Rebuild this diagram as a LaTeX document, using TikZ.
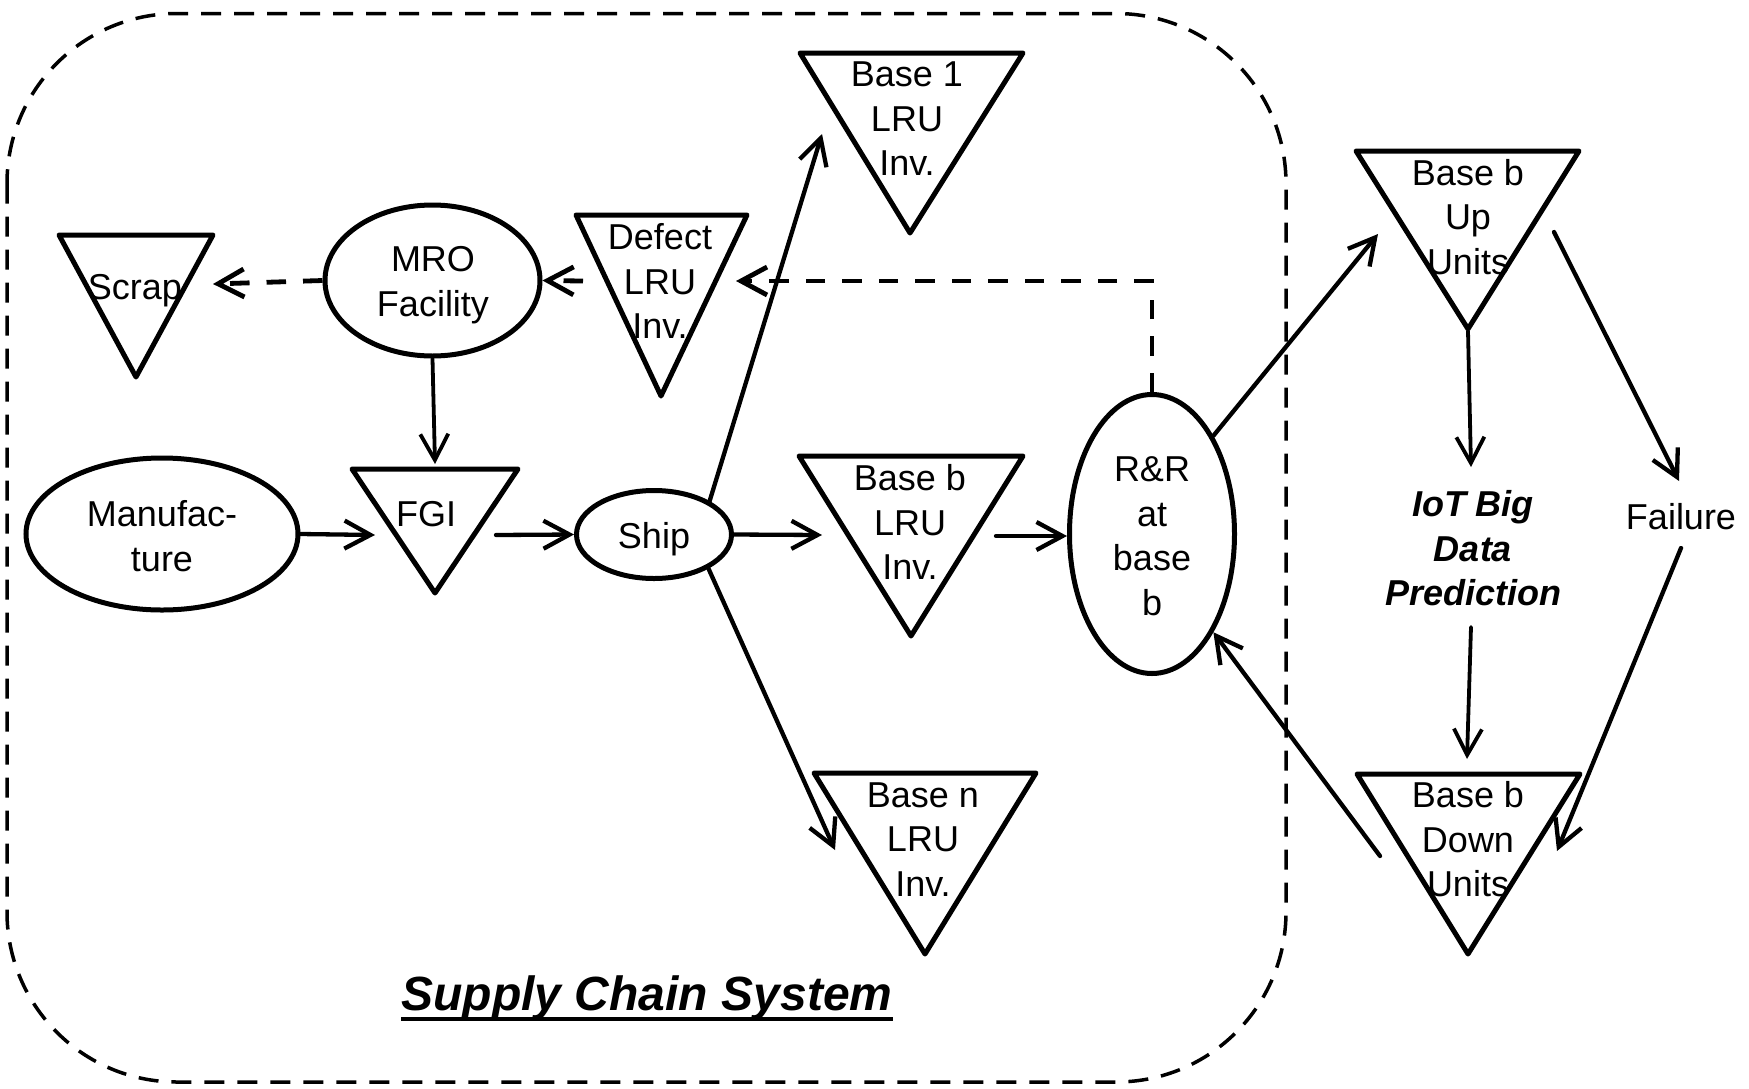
\documentclass[tikz,border=0pt]{standalone}
\usepackage{fontspec}
\setmainfont{Liberation Sans}
\usetikzlibrary{arrows.meta,shapes.geometric}

\tikzset{
  tri/.style={draw, line width=5pt, line join=round},
  oval/.style={ellipse, draw, line width=5pt, inner sep=0pt},
  lbl/.style={inner sep=0pt, align=center, font=\fontsize{36}{44.5}\selectfont},
  hint/.style={lbl, font=\fontsize{36}{44.5}\selectfont\bfseries\itshape},
  flow/.style={line width=4.3pt, line cap=round, -{Straight Barb[length=26pt,width=28pt]}},
  thinflow/.style={flow, line width=3.8pt},
  back/.style={line width=4.8pt, dash pattern=on 19.5pt off 17pt, -{Straight Barb[length=26pt,width=28pt]}},
  frame/.style={line width=3.5pt, dash pattern=on 20pt off 13pt, rounded corners=170pt},
}

\begin{document}
\begin{tikzpicture}[x=1pt, y=-1pt]
  \useasboundingbox (0,0) rectangle (1749,1088);

  % supply chain boundary
  \draw[frame] (7,13.5) rectangle (1286,1082);

  % inventories (downward triangles)
  \draw[tri] (59,235) -- (213,235) -- (136,377) -- cycle;
  \draw[tri] (576,215) -- (747,215) -- (661,396) -- cycle;
  \draw[tri] (800,53) -- (1023,53) -- (910,233) -- cycle;
  \draw[tri] (352,469) -- (518,469) -- (435,593) -- cycle;
  \draw[tri] (799,456) -- (1023,456) -- (911,636) -- cycle;
  \draw[tri] (814,773) -- (1036,773) -- (925,954) -- cycle;
  \draw[tri] (1356,151) -- (1579,151) -- (1468,329) -- cycle;
  \draw[tri] (1357,774) -- (1580,774) -- (1468,954) -- cycle;

  % processes (ellipses)
  \node[oval, minimum width=272pt, minimum height=152pt] (manuf) at (162,534) {};
  \node[oval, minimum width=215pt, minimum height=151pt] (mro) at (432.5,280.5) {};
  \node[oval, minimum width=155pt, minimum height=88pt] (ship) at (654,534.5) {};
  \node[oval, minimum width=165pt, minimum height=279pt] (rr) at (1152,534) {};

  % labels
  \node[lbl] (scrap) at (135,291) {Scrap};
  \node[lbl] (mro-t) at (433,285) {MRO\\Facility};
  \node[lbl] (defect) at (660,281) {Defect\\LRU\\Inv.};
  \node[lbl] (fgi) at (426,514) {FGI};
  \node[lbl] (manuf-t) at (162,536) {Manufac-\\ture};
  \node[lbl] (ship-t) at (654,539) {Ship};
  \node[lbl] (base1) at (907,119) {Base 1\\LRU\\Inv.};
  \node[lbl] (baseb) at (910,522) {Base b\\LRU\\Inv.};
  \node[lbl] (basen) at (923,839.5) {Base n\\LRU\\Inv.};
  \node[lbl] (rr-t) at (1152,536) {R\&R\\at\\base\\b};
  \node[lbl] (up) at (1468,217) {Base b\\Up\\Units};
  \node[lbl] (down) at (1468,839.5) {Base b\\Down\\Units};
  \node[hint] (iot) at (1473,548.5) {IoT Big\\Data\\Prediction};
  \node[lbl] (failure) at (1681,517) {Failure};
  \node[inner sep=0pt, anchor=base, font=\fontsize{48}{58}\selectfont\bfseries\itshape]
    (title) at (647,1010) {Supply Chain System};
  \draw[line width=4.5pt] ([yshift=-9pt]title.base west) -- ([yshift=-9pt]title.base east);

  % connector ends
  \coordinate (fgi-w) at (375,535);
  \coordinate (fgi-e) at (496,535);
  \coordinate (fgi-n) at (435,464);
  \coordinate (bbl-w) at (822,535);
  \coordinate (bbl-e) at (996,536);
  \coordinate (b1-in) at (822,134);
  \coordinate (bn-in) at (835,850);
  \coordinate (up-in) at (1378,234);
  \coordinate (up-apex) at (1468,331);
  \coordinate (up-out) at (1554,232);
  \coordinate (iot-in) at (1471,467);
  \coordinate (iot-out) at (1471,627);
  \coordinate (down-in) at (1467,759);
  \coordinate (fail-in) at (1679,481);
  \coordinate (fail-out) at (1681,548);
  \coordinate (down-fail) at (1557,851);
  \coordinate (down-out) at (1380,856);
  \coordinate (scrap-in) at (213,284);
  \coordinate (def-w) at (583,281);
  \coordinate (def-e) at (736,281);

  % forward flow
  \draw[flow] (manuf.east) -- (fgi-w);
  \draw[flow] (fgi-e) -- (ship.west);
  \draw[flow] (ship.east) -- (bbl-w);
  \draw[flow] (bbl-e) -- (rr.west |- bbl-e);
  \draw[flow] (ship.31) -- (b1-in);
  \draw[flow] (ship.-32) -- (bn-in);
  \draw[flow] (rr.58) -- (up-in);
  \draw[flow] (down-out) -- (rr.-58);
  \draw[thinflow] (mro.south) -- (fgi-n);
  \draw[thinflow] (up-apex) -- (iot-in);
  \draw[thinflow] (iot-out) -- (down-in);
  \draw[flow] (up-out) -- (fail-in);
  \draw[flow] (fail-out) -- (down-fail);

  % returns of defective units
  \draw[back] (rr.north) -- (rr.north |- def-e) -- (def-e);
  \draw[back] (def-w) -- (mro.east);
  \draw[back] (mro.west) -- (scrap-in);
\end{tikzpicture}
\end{document}
